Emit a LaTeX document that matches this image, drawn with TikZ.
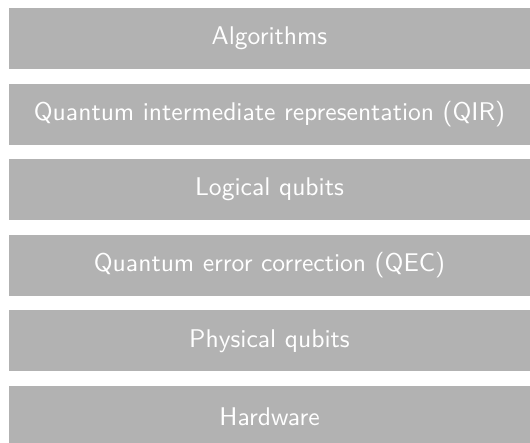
\documentclass[tikz,border=0pt]{standalone}
\usepackage{graphicx}
\newcommand{\lbl}[1]{\scalebox{2.56}{\sffamily\fontsize{10}{12}\selectfont #1}}
\begin{document}
\begin{tikzpicture}[x=1pt,y=1pt,
  layer/.style={fill=black!30, draw=none, text=white, inner sep=0pt,
    minimum width=521pt, minimum height=61pt}]
\useasboundingbox (0,0) rectangle (530,-442);
\node[layer] (alg)  at (269.5,-38.5)  {\lbl{Algorithms}};
\node[layer] (qir)  at (269.5,-114.1) {\lbl{Quantum intermediate representation (QIR)}};
\node[layer] (log)  at (269.5,-189.7) {\lbl{Logical qubits}};
\node[layer] (qec)  at (269.5,-265.3) {\lbl{Quantum error correction (QEC)}};
\node[layer] (phys) at (269.5,-340.9) {\lbl{Physical qubits}};
\node[layer] (hw)   at (269.5,-416.5) {\lbl{Hardware}};
\end{tikzpicture}
\end{document}
